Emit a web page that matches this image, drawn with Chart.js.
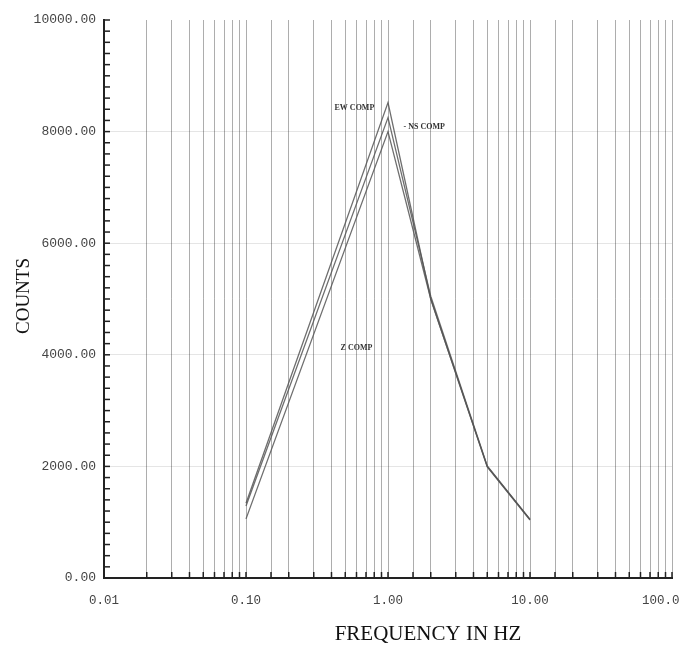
<!DOCTYPE html>
<html>
<head>
<meta charset="utf-8">
<script src="https://cdn.jsdelivr.net/npm/chart.js@4.4.1/dist/chart.umd.min.js"></script>
<style>
  html, body { margin: 0; padding: 0; background: #fff; }
  #wrap { width: 688px; height: 649px; position: relative; }
</style>
</head>
<body>
<div id="wrap"><canvas id="c"></canvas></div>
<script>
// ---- data ----
const freqs    = [0.1, 1.0, 2.0, 5.0, 10.0];
const ewCounts = [1340, 8520, 5000, 2000, 1050];
const nsCounts = [1290, 8250, 5050, 2010, 1050];
const zCounts  = [1060, 8000, 5000, 1990, 1040];
const seriesNames = ['EW COMP', 'NS COMP', 'Z COMP'];
const xDecadeLabels = { '0.01': '0.01', '0.1': '0.10', '1': '1.00', '10': '10.00', '100': '100.0   ' };
const yMajorStep = 2000;
const yMinorStep = 200;

function pts(ys) { return freqs.map((f, i) => ({ x: f, y: ys[i] })); }
function isDecade(v) { const l = Math.log10(v); return Math.abs(l - Math.round(l)) < 1e-6; }
function decadeKey(v) { return String(+Math.pow(10, Math.round(Math.log10(v))).toPrecision(3)); }

const lineColor = 'rgba(85,85,85,0.85)';

const decor = {
  id: 'decor',
  afterDraw(chart) {
    const ctx = chart.ctx;
    const xs = chart.scales.x, ys = chart.scales.y;
    const area = chart.chartArea;
    ctx.save();
    // inward tick marks on the x axis
    ctx.strokeStyle = '#222';
    ctx.lineWidth = 1.5;
    xs.ticks.forEach(t => {
      const px = xs.getPixelForValue(t.value);
      ctx.beginPath();
      ctx.moveTo(px, area.bottom);
      ctx.lineTo(px, area.bottom - 6);
      ctx.stroke();
    });
    // inward tick marks on the y axis
    ys.ticks.forEach(t => {
      const py = ys.getPixelForValue(t.value);
      ctx.beginPath();
      ctx.moveTo(area.left, py);
      ctx.lineTo(area.left + 6, py);
      ctx.stroke();
    });
    // axis titles
    ctx.fillStyle = '#111';
    ctx.font = '21px "Liberation Serif", "Times New Roman", serif';
    ctx.textAlign = 'center';
    ctx.textBaseline = 'middle';
    ctx.fillText('FREQUENCY IN HZ', 428, 634);
    ctx.save();
    ctx.translate(24, 296);
    ctx.rotate(-Math.PI / 2);
    ctx.font = '19px "Liberation Serif", "Times New Roman", serif';
    ctx.fillText('COUNTS', 0, 0);
    ctx.restore();
    // series annotations
    ctx.font = 'bold 8px "Liberation Serif", "Times New Roman", serif';
    ctx.fillStyle = '#333';
    ctx.fillText(seriesNames[0], xs.getPixelForValue(0.58), ys.getPixelForValue(8420));
    ctx.fillText('- ' + seriesNames[1], xs.getPixelForValue(1.8), ys.getPixelForValue(8080));
    ctx.fillText(seriesNames[2], xs.getPixelForValue(0.6), ys.getPixelForValue(4130));
    ctx.restore();
  }
};

new Chart(document.getElementById('c'), {
  type: 'line',
  data: {
    datasets: [
      { label: seriesNames[0], data: pts(ewCounts), borderColor: lineColor, borderWidth: 1.3, pointRadius: 0, tension: 0, fill: false },
      { label: seriesNames[1], data: pts(nsCounts), borderColor: lineColor, borderWidth: 1.3, pointRadius: 0, tension: 0, fill: false },
      { label: seriesNames[2], data: pts(zCounts),  borderColor: lineColor, borderWidth: 1.3, pointRadius: 0, tension: 0, fill: false }
    ]
  },
  options: {
    responsive: true,
    maintainAspectRatio: false,
    animation: false,
    layout: { padding: { top: 20, right: 16, bottom: 0, left: 0 } },
    plugins: { legend: { display: false }, tooltip: { enabled: false } },
    scales: {
      x: {
        type: 'logarithmic',
        min: 0.01,
        max: 100,
        border: { display: true, color: '#222', width: 2 },
        grid: {
          drawTicks: false,
          color: ctx => (ctx.tick && Math.abs(ctx.tick.value - 0.01) < 1e-9) ? 'rgba(0,0,0,0)' : 'rgba(0,0,0,0.32)',
          lineWidth: 1
        },
        ticks: {
          autoSkip: false,
          maxRotation: 0,
          minRotation: 0,
          padding: 15,
          color: '#444',
          font: { family: '"Liberation Mono", "DejaVu Sans Mono", monospace', size: 12.5 },
          callback: v => isDecade(v) ? (xDecadeLabels[decadeKey(v)] || '') : ''
        },
        afterFit: s => { s.height = 71; s.paddingLeft = 0; s.paddingRight = 0; }
      },
      y: {
        min: 0,
        max: 10000,
        border: { display: true, color: '#222', width: 2 },
        grid: {
          drawTicks: false,
          color: ctx => (ctx.tick && ctx.tick.value % yMajorStep === 0 && ctx.tick.value > 0 && ctx.tick.value < 10000) ? 'rgba(0,0,0,0.10)' : 'rgba(0,0,0,0)',
          lineWidth: 1
        },
        ticks: {
          stepSize: yMinorStep,
          autoSkip: false,
          padding: 8,
          color: '#444',
          font: { family: '"Liberation Mono", "DejaVu Sans Mono", monospace', size: 13 },
          callback: v => (v % yMajorStep === 0) ? v.toFixed(2) : ''
        },
        afterFit: s => { s.width = 104; s.paddingTop = 0; s.paddingBottom = 0; }
      }
    }
  },
  plugins: [decor]
});
</script>
</body>
</html>
